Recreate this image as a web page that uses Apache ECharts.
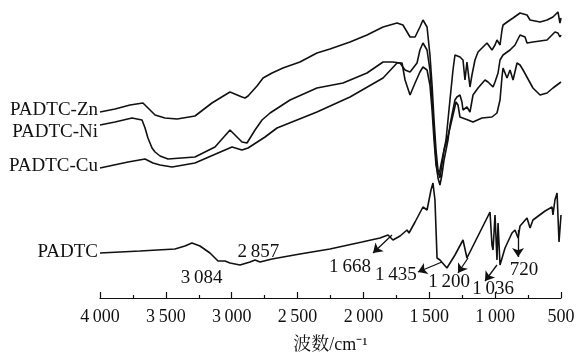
<!DOCTYPE html>
<html lang="zh">
<head>
<meta charset="UTF-8">
<title>PADTC IR</title>
<style>
  html, body { margin: 0; padding: 0; background: #fff; }
  #chart { width: 581px; height: 360px; }
</style>
</head>
<body>
<div id="chart"></div>
<script src="https://cdn.jsdelivr.net/npm/echarts@6/dist/echarts.min.js"></script>
<script>
// IR spectra, [wavenumber cm-1, transmittance (arbitrary offset units)]
var znData = [
  [4000,186],[3886,189],[3772,193],[3674,195],[3620,188],[3582,183],[3507,180],[3415,179],
  [3279,182],[3150,195],[3051,203],[3013,206],[2922,201],[2899,200],[2876,202],[2808,212],
  [2762,220],[2694,225],[2611,230],[2482,236],[2353,245],[2254,249],[2102,256],[1973,263],
  [1851,271],[1745,275],[1700,273],[1646,261],[1608,261],[1571,271],[1548,278],[1517,271],
  [1495,243],[1479,213],[1464,178],[1449,148],[1434,128],[1419,120],[1404,133],[1388,148],
  [1373,158],[1358,178],[1343,198],[1320,228],[1305,243],[1267,241],[1244,238],[1229,218],
  [1214,236],[1191,211],[1176,223],[1153,238],[1130,246],[1062,255],[1024,248],[1001,253],
  [986,258],[963,253],[948,268],[940,273],[887,278],[864,280],[811,285],[758,283],[735,278],
  [659,276],[606,278],[561,281],[523,286],[508,275],[500,280]
];
var niData = [
  [4000,173],[3886,176],[3757,180],[3681,178],[3658,170],[3636,160],[3605,150],[3582,146],
  [3544,142],[3484,139],[3279,141],[3127,151],[3013,168],[2960,161],[2922,156],[2884,155],
  [2823,168],[2770,178],[2709,185],[2557,198],[2353,210],[2155,215],[1973,225],[1851,236],
  [1776,236],[1722,235],[1684,228],[1646,226],[1593,235],[1571,248],[1548,255],[1517,248],
  [1495,228],[1479,198],[1464,168],[1449,138],[1434,120],[1419,113],[1404,123],[1388,138],
  [1373,148],[1358,158],[1343,173],[1320,188],[1305,198],[1290,201],[1267,203],[1252,196],
  [1244,188],[1214,191],[1191,186],[1168,203],[1130,210],[1077,218],[1054,216],[1016,211],
  [1001,216],[978,225],[963,238],[940,243],[887,248],[849,253],[811,263],[773,261],[758,255],
  [713,256],[606,258],[546,266],[523,265],[508,261],[500,263]
];
var cuData = [
  [4000,130],[3787,136],[3658,139],[3598,135],[3544,133],[3453,131],[3279,135],[3104,145],
  [2998,151],[2922,148],[2876,150],[2747,161],[2656,170],[2353,186],[2102,201],[1851,220],
  [1745,235],[1707,235],[1684,218],[1646,203],[1608,215],[1571,226],[1548,231],[1517,228],
  [1495,213],[1479,188],[1464,158],[1449,133],[1434,123],[1419,128],[1404,138],[1388,148],
  [1366,158],[1343,170],[1320,183],[1297,196],[1282,193],[1267,181],[1206,178],[1168,176],
  [1100,180],[1024,181],[986,185],[963,198],[948,221],[940,230],[910,220],[887,228],[864,218],
  [834,235],[811,233],[788,228],[713,210],[659,203],[606,205],[561,210],[500,216]
];
var padtcData = [
  [4000,45],[3696,47],[3431,49],[3355,52],[3302,55],[3241,52],[3165,45],[3104,37],[3051,37],
  [3013,35],[2937,33],[2861,36],[2823,38],[2785,36],[2694,39],[2482,44],[2254,49],[2011,56],
  [1874,60],[1813,63],[1776,58],[1722,62],[1669,68],[1654,65],[1608,76],[1548,91],[1517,88],
  [1487,108],[1472,115],[1457,98],[1441,40],[1419,38],[1366,30],[1305,43],[1244,58],[1214,40],
  [1176,50],[1115,66],[1054,82],[1039,86],[1024,53],[1016,48],[1001,83],[986,38],[978,75],
  [963,33],[948,31],[925,50],[872,65],[849,68],[826,60],[811,72],[758,80],[735,70],[713,78],
  [621,87],[568,91],[561,83],[546,98],[530,105],[515,56],[500,83]
];

var seriesNames = ['PADTC-Zn', 'PADTC-Ni', 'PADTC-Cu', 'PADTC'];
var xTicks = [4000, 3500, 3000, 2500, 2000, 1500, 1000, 500];

// peak annotations: text, label anchor [wn, T]
var peakLabels = [
  ['3\u2009084', 3229, 20], ['2\u2009857', 2797, 46], ['1\u2009668', 2102, 31],
  ['1\u2009435', 1753, 23], ['1\u2009200', 1350, 16], ['1\u2009036', 1016, 9], ['720', 781, 28]
];
// arrows: from curve -> towards label
var peakArrows = [
  [[1783, 63], [1927, 45]],
  [[1404, 36], [1586, 26]],
  [[1206, 40], [1282, 25]],
  [[986, 33], [1077, 17]],
  [[826, 68], [826, 41]]
];

var serif = 'Liberation Serif, "Noto Serif CJK SC", "Noto Sans CJK SC", serif';
var chart = echarts.init(document.getElementById('chart'));

function fmt(v) {
  var s = String(v);
  return s.length > 3 ? s.slice(0, s.length - 3) + '\u2009' + s.slice(-3) : s;
}

function nameMark(data, offY) {
  return {
    symbol: 'circle', symbolSize: 0, silent: true,
    label: {
      show: true, position: 'left', distance: 2, offset: [0, offY],
      formatter: '{b}', color: '#111', fontFamily: serif, fontSize: 19
    },
    data: [{ name: data.name, coord: data.coord }]
  };
}

function makeSeries(name, data, offY) {
  return {
    name: name, type: 'line', data: data, showSymbol: false, symbol: 'none',
    lineStyle: { color: '#111', width: 1.6 },
    markPoint: nameMark({ name: name, coord: data[0] }, offY),
    z: 2
  };
}

var series = [
  makeSeries(seriesNames[0], znData, -2),
  makeSeries(seriesNames[1], niData, 7),
  makeSeries(seriesNames[2], cuData, -2),
  makeSeries(seriesNames[3], padtcData, -1)
];

// peak labels on PADTC
series[3].markPoint.data = series[3].markPoint.data.concat(peakLabels.map(function (p) {
  return {
    name: p[0], coord: [p[1], p[2]],
    label: { position: 'inside', offset: [0, 0], fontSize: 19 }
  };
}));
series[3].markLine = {
  silent: true, symbol: ['none', 'arrow'], symbolSize: 9, animation: false,
  label: { show: false },
  lineStyle: { color: '#111', width: 1.3, type: 'solid' },
  itemStyle: { color: '#111' },
  data: peakArrows.map(function (a) {
    return [{ coord: a[0] }, { coord: a[1] }];
  })
};

chart.setOption({
  animation: false,
  backgroundColor: '#fff',
  grid: { left: 100, right: 20, top: 8, bottom: 62 },
  xAxis: {
    type: 'value', inverse: true, min: 500, max: 4000, interval: 500,
    name: '波数/cm\u207B\u00B9', nameLocation: 'middle', nameGap: 38,
    nameTextStyle: { color: '#111', fontFamily: serif, fontSize: 18 },
    axisLine: { lineStyle: { color: '#111', width: 1.2 } },
    axisTick: { inside: true, length: 6, lineStyle: { color: '#111', width: 1.2 } },
    minorTick: { show: true, splitNumber: 2, length: 3, lineStyle: { color: '#111', width: 1.2 } },
    axisLabel: {
      color: '#111', fontFamily: serif, fontSize: 18, margin: 10,
      formatter: function (v) { return xTicks.indexOf(v) >= 0 ? fmt(v) : ''; }
    },
    splitLine: { show: false }
  },
  yAxis: { type: 'value', min: 0, max: 290, show: false },
  series: series
});
</script>
</body>
</html>
